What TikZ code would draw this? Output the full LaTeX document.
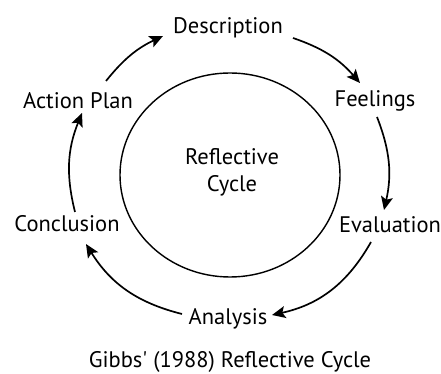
\documentclass[tikz,border=0pt]{standalone}
\usepackage{fontspec}
\setmainfont{PT Sans}
\usetikzlibrary{arrows.meta}
\tikzset{
  stage/.style={font=\fontsize{16}{19}\selectfont, inner sep=1pt},
  flow/.style={-{Stealth[length=9.5pt,width=8.5pt,inset=2pt]}, line width=1.2pt, bend left=#1},
}
\begin{document}
\begin{tikzpicture}[x=0.025cm,y=0.025cm]
\useasboundingbox (0,0) rectangle (441,374);
% stages of the cycle
\node[stage] (desc) at (228,346) {Description};
\node[stage] (feel) at (375,273) {Feelings};
\node[stage] (eval) at (390,149) {Evaluation};
\node[stage] (anal) at (228,55) {Analysis};
\node[stage] (concl) at (67,150) {Conclusion};
\node[stage] (plan) at (78,273) {Action Plan};
% middle
\draw[line width=1pt] (230,199) ellipse [x radius=110, y radius=102];
\node[stage, align=center] (cycle) at (232,202) {Reflective\\Cycle};
\node[stage] (title) at (230,12) {Gibbs\textquotesingle{} (1988) Reflective Cycle};
% arrows round the cycle
\draw[flow=13] ([shift={(28,20)}]plan.center) to ([shift={(-65,-8)}]desc.center);
\draw[flow=15] ([shift={(65,-10)}]desc.center) to ([shift={(-15,18)}]feel.center);
\draw[flow=17] ([shift={(2,-16)}]feel.center) to ([shift={(-6,15)}]eval.center);
\draw[flow=24] ([shift={(-19,-17)}]eval.center) to ([shift={(44,4)}]anal.center);
\draw[flow=22] ([shift={(-46,5)}]anal.center) to ([shift={(19,-20)}]concl.center);
\draw[flow=18] ([shift={(8,12)}]concl.center) to ([shift={(4,-12)}]plan.center);
\end{tikzpicture}
\end{document}
